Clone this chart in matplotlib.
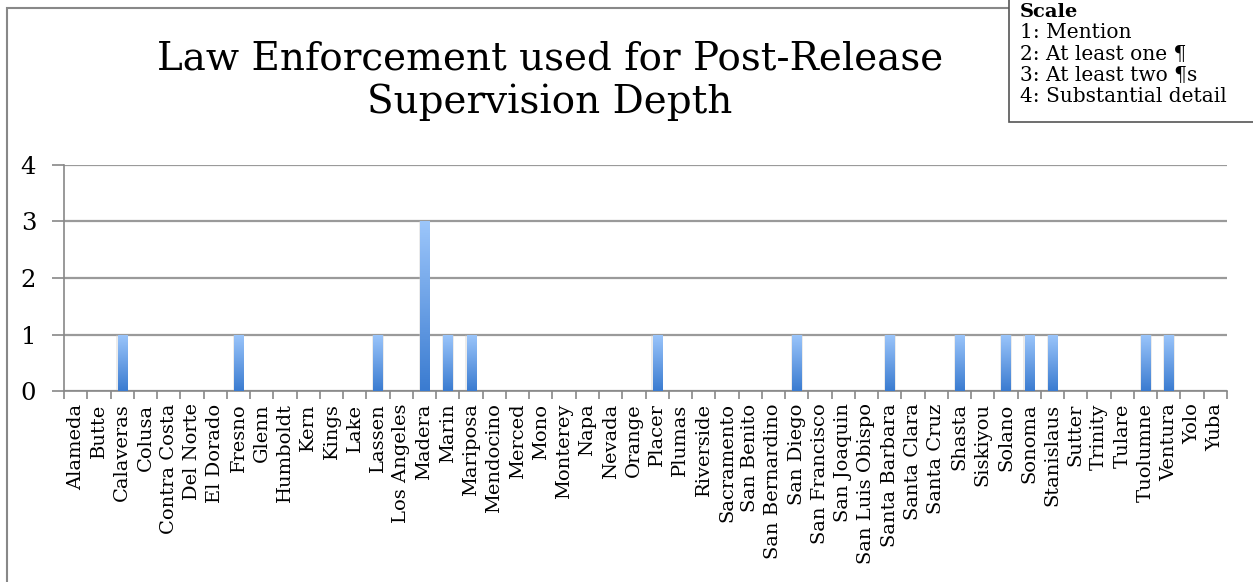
import numpy as np
import matplotlib
matplotlib.use("Agg")
import matplotlib.pyplot as plt
from matplotlib.colors import LinearSegmentedColormap
from matplotlib.patches import Rectangle

plt.rcParams["font.family"] = ["DejaVu Serif"]

counties = [
    "Alameda", "Butte", "Calaveras", "Colusa", "Contra Costa", "Del Norte",
    "El Dorado", "Fresno", "Glenn", "Humboldt", "Kern", "Kings", "Lake",
    "Lassen", "Los Angeles", "Madera", "Marin", "Mariposa", "Mendocino",
    "Merced", "Mono", "Monterey", "Napa", "Nevada", "Orange", "Placer",
    "Plumas", "Riverside", "Sacramento", "San Benito", "San Bernardino",
    "San Diego", "San Francisco", "San Joaquin", "San Luis Obispo",
    "Santa Barbara", "Santa Clara", "Santa Cruz", "Shasta", "Siskiyou",
    "Solano", "Sonoma", "Stanislaus", "Sutter", "Trinity", "Tulare",
    "Tuolumne", "Ventura", "Yolo", "Yuba",
]
depth = [
    0, 0, 1, 0, 0, 0, 0, 1, 0, 0, 0, 0, 0, 1, 0, 3, 1, 1, 0, 0,
    0, 0, 0, 0, 0, 1, 0, 0, 0, 0, 0, 1, 0, 0, 0, 1, 0, 0, 1, 0,
    1, 1, 1, 0, 0, 0, 1, 1, 0, 0,
]
scale_lines = ["1: Mention", "2: At least one ¶", "3: At least two ¶s", "4: Substantial detail"]

W, H = 1253, 582
fig = plt.figure(figsize=(W / 100, H / 100), dpi=100)
ax = fig.add_axes([64 / W, 1 - 391 / H, (1227 - 64) / W, (391 - 165) / H])

x = np.arange(len(counties))
bw = 0.39
cmap = LinearSegmentedColormap.from_list("bar", ["#3a7bd0", "#9cc6fb"])
grad = np.linspace(0, 1, 256).reshape(-1, 1)

bars = ax.bar(x, depth, width=bw, color="none", zorder=3)
for b, v in zip(bars, depth):
    if v == 0:
        continue
    x0 = b.get_x()
    # soft shadow behind each bar
    ax.add_patch(Rectangle((x0 - 0.06, 0), bw + 0.12, v, facecolor="#c8c8c8",
                           alpha=0.35, edgecolor="none", zorder=2))
    im = ax.imshow(grad, cmap=cmap, origin="lower", aspect="auto",
                   extent=(x0, x0 + bw, 0, v), zorder=3)
    im.set_clip_path(b)

ax.set_xlim(-0.5, len(counties) - 0.5)
ax.set_ylim(0, 4)
ax.set_yticks(range(5))
ax.set_xticks(np.arange(len(counties) + 1) - 0.5, minor=True)
ax.set_xticks(x)
ax.set_xticklabels(counties, rotation=90, fontsize=14)
ax.tick_params(axis="x", which="major", length=0, pad=9)
ax.tick_params(axis="x", which="minor", length=6, color="#888888", width=1.2)
ax.tick_params(axis="y", length=9, color="#888888", width=1.2, labelsize=17.5, pad=11)
ax.yaxis.grid(True, color="#9a9a9a", linewidth=1.6, zorder=0)
ax.set_axisbelow(True)
for s in ("top", "right"):
    ax.spines[s].set_visible(False)
for s in ("left", "bottom"):
    ax.spines[s].set_color("#888888")
    ax.spines[s].set_linewidth(1.2)

fig.text(550 / W, 1 - 81 / H, "Law Enforcement used for Post-Release\nSupervision Depth",
         ha="center", va="center", fontsize=28, linespacing=1.2)

# outer frame
fig.add_artist(Rectangle((7 / W, -0.01), 1.05, 1 - 8 / H + 0.01, transform=fig.transFigure,
                         fill=False, edgecolor="#888888", linewidth=1.5))

# scale box
fig.add_artist(Rectangle((1009 / W, 1 - 122 / H), (W - 1009) / W + 0.01, 122 / H + 0.01,
                         transform=fig.transFigure, facecolor="white",
                         edgecolor="#555555", linewidth=1.2))
fig.text(1020 / W, 1 - 12 / H, "Scale", ha="left", va="center", fontsize=14, fontweight="bold")
for i, line in enumerate(scale_lines):
    fig.text(1020 / W, 1 - (33 + 21.3 * i) / H, line, ha="left", va="center", fontsize=14.5)

fig.savefig("out.png", dpi=100)
